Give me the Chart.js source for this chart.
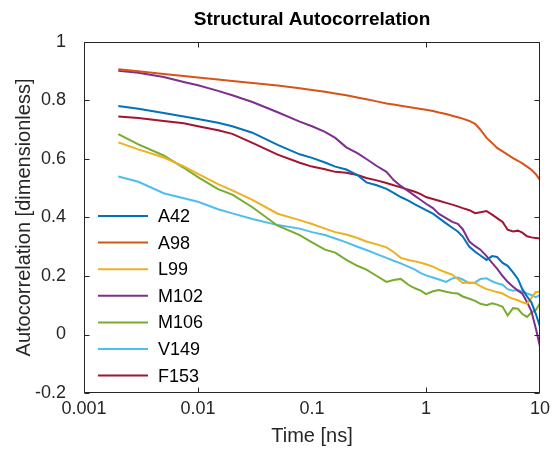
<!DOCTYPE html>
<html>
<head>
<meta charset="utf-8">
<title>Structural Autocorrelation</title>
<script src="https://cdn.jsdelivr.net/npm/chart.js@4/dist/chart.umd.min.js"></script>
<style>
  body { margin: 0; background: #fff; }
  #wrap { width: 553px; height: 452px; }
</style>
</head>
<body>
<div id="wrap"><canvas id="acChart" width="553" height="452"></canvas></div>
<script>
// time points [ns], shared by every residue
const times = [0.002, 0.003, 0.005, 0.0075, 0.01, 0.015, 0.02, 0.03, 0.05, 0.078,
  0.1, 0.13, 0.16, 0.2, 0.25, 0.3, 0.37, 0.45, 0.52, 0.6,
  0.7, 0.8, 0.9, 1.0, 1.15, 1.3, 1.5, 1.7, 1.9, 2.1,
  2.4, 2.7, 3.0, 3.4, 3.8, 4.2, 4.7, 5.2, 5.8, 6.4,
  7.0, 7.7, 8.4, 9.2, 10];

const residues = ['A42', 'A98', 'L99', 'M102', 'M106', 'V149', 'F153'];

const a42 = [0.781, 0.772, 0.757, 0.745, 0.737, 0.724, 0.712, 0.690, 0.648, 0.616,
  0.604, 0.588, 0.574, 0.564, 0.545, 0.520, 0.510, 0.498, 0.484, 0.470,
  0.458, 0.445, 0.435, 0.425, 0.413, 0.398, 0.380, 0.365, 0.352, 0.335,
  0.300, 0.283, 0.270, 0.255, 0.268, 0.265, 0.245, 0.235, 0.212, 0.190,
  0.155, 0.130, 0.110, 0.070, 0.027];
const a98 = [0.907, 0.900, 0.891, 0.884, 0.879, 0.872, 0.867, 0.860, 0.851, 0.842,
  0.836, 0.830, 0.824, 0.818, 0.810, 0.804, 0.797, 0.790, 0.786, 0.782,
  0.778, 0.774, 0.771, 0.768, 0.764, 0.759, 0.754, 0.748, 0.743, 0.738,
  0.730, 0.720, 0.700, 0.672, 0.655, 0.638, 0.626, 0.615, 0.603, 0.594,
  0.585, 0.574, 0.563, 0.548, 0.528];
const l99 = [0.657, 0.633, 0.605, 0.575, 0.549, 0.514, 0.493, 0.460, 0.413, 0.391,
  0.378, 0.362, 0.350, 0.342, 0.330, 0.318, 0.308, 0.298, 0.282, 0.262,
  0.255, 0.250, 0.245, 0.240, 0.232, 0.222, 0.212, 0.205, 0.190, 0.176,
  0.178, 0.176, 0.165, 0.155, 0.150, 0.145, 0.140, 0.130, 0.122, 0.117,
  0.110, 0.105, 0.125, 0.145, 0.146];
const m102 = [0.902, 0.895, 0.880, 0.863, 0.852, 0.833, 0.818, 0.795, 0.760, 0.728,
  0.712, 0.693, 0.672, 0.640, 0.620, 0.600, 0.576, 0.556, 0.528, 0.508,
  0.490, 0.474, 0.460, 0.447, 0.432, 0.412, 0.398, 0.385, 0.378, 0.360,
  0.318, 0.302, 0.290, 0.268, 0.245, 0.225, 0.200, 0.180, 0.163, 0.150,
  0.140, 0.110, 0.080, 0.020, -0.042];
const m106 = [0.685, 0.650, 0.612, 0.570, 0.538, 0.497, 0.478, 0.435, 0.372, 0.340,
  0.315, 0.290, 0.280, 0.255, 0.235, 0.222, 0.200, 0.180, 0.186, 0.190,
  0.170, 0.158, 0.150, 0.138, 0.148, 0.152, 0.146, 0.142, 0.140, 0.130,
  0.122, 0.115, 0.105, 0.100, 0.107, 0.102, 0.095, 0.065, 0.090, 0.088,
  0.070, 0.060, 0.075, 0.084, 0.107];
const v149 = [0.540, 0.522, 0.483, 0.466, 0.454, 0.428, 0.414, 0.395, 0.374, 0.362,
  0.350, 0.340, 0.328, 0.315, 0.300, 0.289, 0.275, 0.262, 0.252, 0.243,
  0.232, 0.222, 0.210, 0.202, 0.195, 0.188, 0.180, 0.192, 0.195, 0.188,
  0.175, 0.178, 0.190, 0.192, 0.182, 0.175, 0.170, 0.155, 0.150, 0.152,
  0.146, 0.140, 0.135, 0.128, 0.135];
const f153 = [0.745, 0.740, 0.730, 0.722, 0.712, 0.698, 0.686, 0.655, 0.615, 0.587,
  0.574, 0.565, 0.556, 0.553, 0.545, 0.535, 0.527, 0.518, 0.510, 0.503,
  0.495, 0.488, 0.480, 0.470, 0.463, 0.457, 0.450, 0.444, 0.438, 0.432,
  0.425, 0.415, 0.418, 0.422, 0.410, 0.398, 0.385, 0.358, 0.352, 0.355,
  0.348, 0.336, 0.332, 0.330, 0.328];

const xTickLabels = [0.001, 0.01, 0.1, 1, 10];
const xTickMarks = [0.01, 1];
const yTickLabels = [-0.2, 0, 0.2, 0.4, 0.6, 0.8, 1];
const chartTitle = 'Structural Autocorrelation';

const series = [a42, a98, l99, m102, m106, v149, f153];
const colors = ['#0072BD', '#D95319', '#EDB120', '#7E2F8E', '#77AC30', '#4DBEEE', '#A2142F'];

const FONT = '"Liberation Sans", Arial, Helvetica, sans-serif';
const INK = '#262626';

// title over the axes, box with inward ticks, legend inside the plot
const boxAndLegend = {
  id: 'boxAndLegend',
  afterDraw(chart) {
    const ctx = chart.ctx;
    const a = chart.chartArea;
    const xs = chart.scales.x, ys = chart.scales.y;
    const L = Math.round(a.left) + 0.5, R = Math.round(a.right) - 0.5;
    const T = Math.round(a.top) + 0.5, B = Math.round(a.bottom) - 0.5;
    ctx.save();

    ctx.fillStyle = '#000';
    ctx.font = 'bold 19px ' + FONT;
    ctx.textAlign = 'center';
    ctx.textBaseline = 'middle';
    ctx.fillText(chartTitle, (a.left + a.right) / 2, 20);

    ctx.strokeStyle = INK;
    ctx.lineWidth = 1;
    ctx.strokeRect(L, T, R - L, B - T);
    ctx.beginPath();
    yTickLabels.forEach(v => {
      const y = Math.round(ys.getPixelForValue(v)) + 0.5;
      ctx.moveTo(L, y); ctx.lineTo(L + 5, y);
      ctx.moveTo(R, y); ctx.lineTo(R - 5, y);
    });
    xTickMarks.forEach(v => {
      const x = Math.round(xs.getPixelForValue(v)) + 0.5;
      ctx.moveTo(x, B); ctx.lineTo(x, B - 5);
      ctx.moveTo(x, T); ctx.lineTo(x, T + 5);
    });
    ctx.stroke();

    // legend
    ctx.font = '18px ' + FONT;
    ctx.textAlign = 'left';
    ctx.lineWidth = 2;
    chart.data.datasets.forEach((ds, i) => {
      const y = 216 + i * 26.6;
      ctx.strokeStyle = ds.borderColor;
      ctx.beginPath();
      ctx.moveTo(98, y); ctx.lineTo(148, y);
      ctx.stroke();
      ctx.fillStyle = '#000';
      ctx.fillText(ds.label, 158, y + 1);
    });
    ctx.restore();
  }
};

new Chart(document.getElementById('acChart'), {
  type: 'line',
  data: {
    datasets: residues.map((name, i) => ({
      label: name,
      data: times.map((t, j) => ({ x: t, y: series[i][j] })),
      borderColor: colors[i],
      backgroundColor: colors[i],
      borderWidth: 2,
      pointRadius: 0,
      tension: 0,
      fill: false
    }))
  },
  options: {
    responsive: false,
    animation: false,
    devicePixelRatio: 1,
    layout: { padding: { top: 42, right: 13, left: 0, bottom: 0 } },
    plugins: {
      legend: { display: false },
      tooltip: { enabled: false },
      title: { display: false }
    },
    scales: {
      x: {
        type: 'logarithmic',
        min: 0.001,
        max: 10,
        grid: { display: false },
        border: { display: false },
        afterBuildTicks: scale => {
          scale.ticks = xTickLabels.map(v => ({ value: v }));
        },
        afterFit: scale => { scale.height = 59; },
        ticks: {
          color: INK,
          font: { family: FONT, size: 18 },
          padding: -3,
          maxRotation: 0,
          autoSkip: false,
          callback: v => String(v)
        },
        title: {
          display: true,
          text: 'Time [ns]',
          color: INK,
          font: { family: FONT, size: 20 },
          padding: { top: 0, bottom: 4 }
        }
      },
      y: {
        min: -0.2,
        max: 1,
        grid: { display: false },
        border: { display: false },
        afterBuildTicks: scale => {
          scale.ticks = yTickLabels.map(v => ({ value: v }));
        },
        afterFit: scale => { scale.width = 84; },
        ticks: {
          color: INK,
          font: { family: FONT, size: 18 },
          padding: 10,
          callback: v => String(Number(v.toFixed(1)))
        },
        title: {
          display: true,
          text: 'Autocorrelation [dimensionless]',
          color: INK,
          font: { family: FONT, size: 20 },
          padding: { top: 12, bottom: 0 }
        }
      }
    }
  },
  plugins: [boxAndLegend]
});
</script>
</body>
</html>
